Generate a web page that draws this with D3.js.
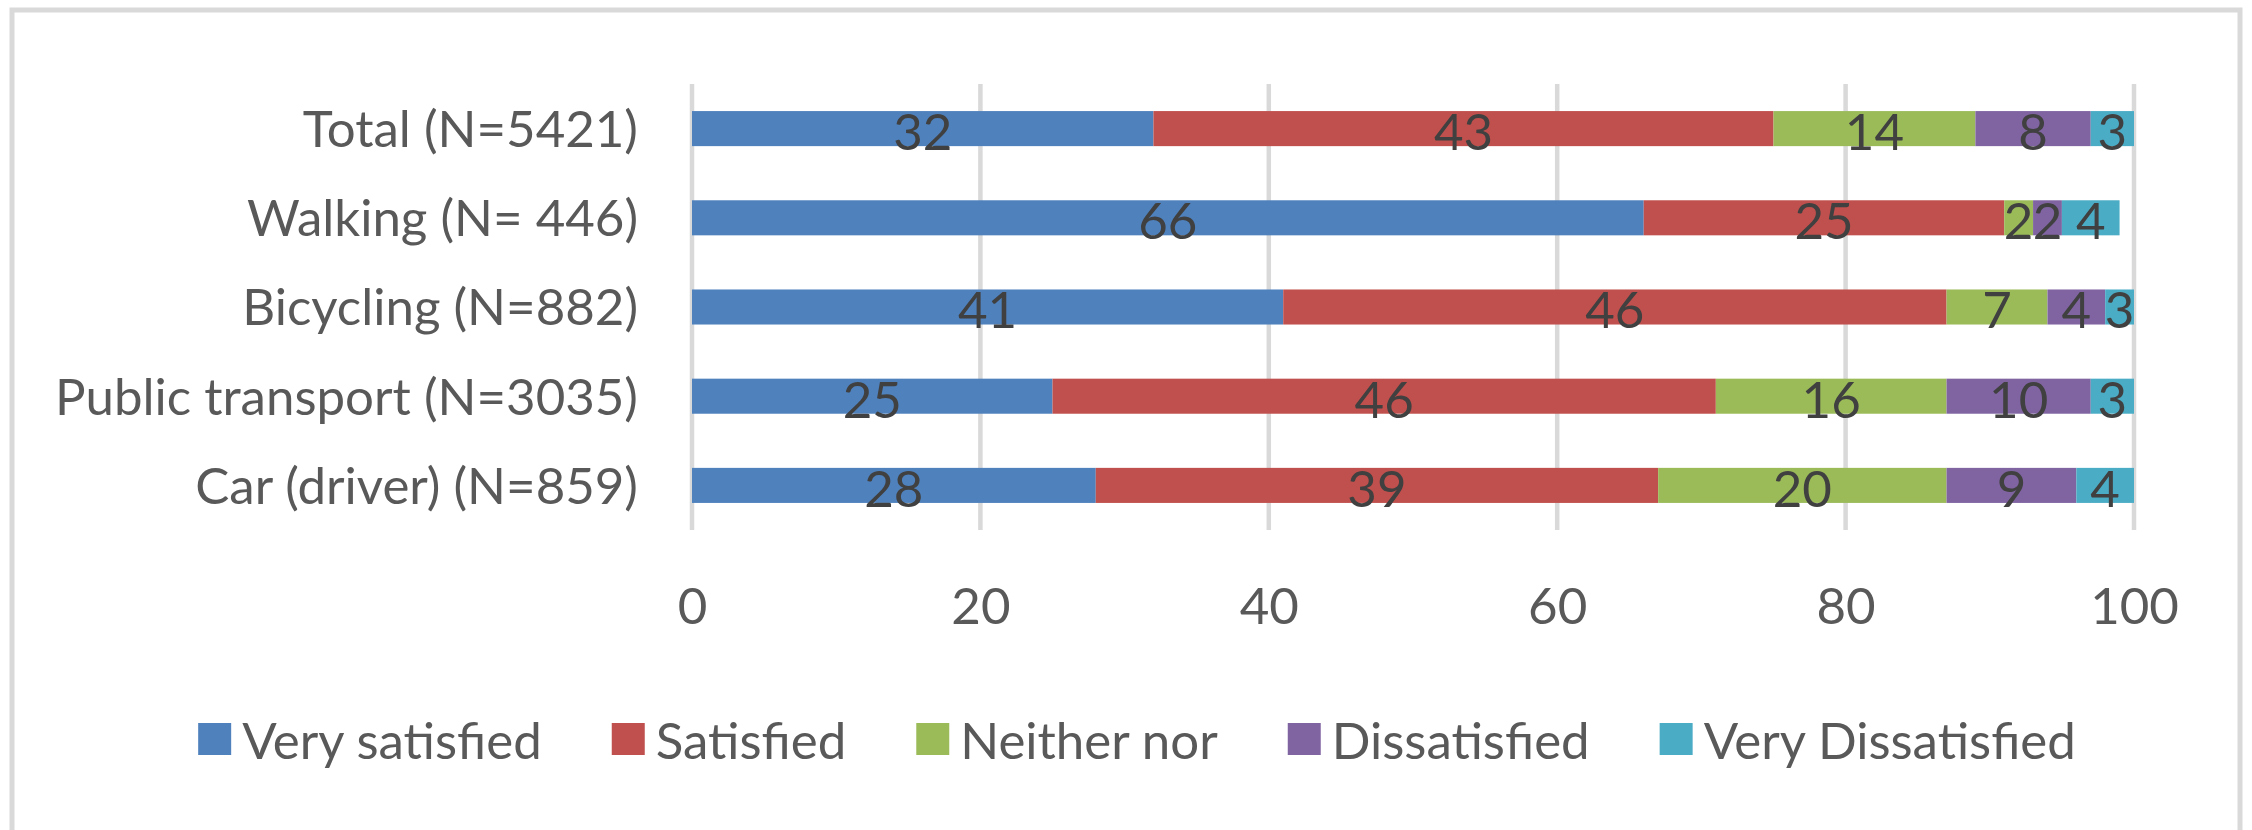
<!DOCTYPE html>
<html>
<head>
<meta charset="utf-8">
<script src="https://cdn.jsdelivr.net/npm/d3@7"></script>
<style>
  html, body { margin: 0; padding: 0; background: #ffffff; }
  svg { display: block; }
  text { font-family: "Lato", "Open Sans", sans-serif; }
</style>
</head>
<body>
<svg id="chart" width="2252" height="830"></svg>
<script>
// Satisfaction with travel mode, percent of respondents
const categories = [
  "Total (N=5421)",
  "Walking (N= 446)",
  "Bicycling (N=882)",
  "Public transport (N=3035)",
  "Car (driver) (N=859)"
];
const seriesNames = ["Very satisfied", "Satisfied", "Neither nor", "Dissatisfied", "Very Dissatisfied"];
const verySatisfied     = [32, 66, 41, 25, 28];
const satisfied         = [43, 25, 46, 46, 39];
const neitherNor        = [14,  2,  7, 16, 20];
const dissatisfied      = [ 8,  2,  4, 10,  9];
const veryDissatisfied  = [ 3,  4,  3,  3,  4];
const xTicks = [0, 20, 40, 60, 80, 100];

const seriesValues = [verySatisfied, satisfied, neitherNor, dissatisfied, veryDissatisfied];
const colors = ["#4F81BD", "#C0504D", "#9BBB59", "#8064A2", "#4BACC6"];

const W = 2252, H = 830;
const plot = { left: 692, right: 2134, top: 84, bottom: 530 };
const FONT = 51;

const svg = d3.select("#chart");

// outer chart frame
svg.append("rect")
  .attr("x", 12).attr("y", 10)
  .attr("width", W - 24).attr("height", H + 20)
  .attr("fill", "#ffffff")
  .attr("stroke", "#d9d9d9").attr("stroke-width", 5);

const x = d3.scaleLinear().domain([0, 100]).range([plot.left, plot.right]);
const y = d3.scaleBand().domain(categories)
  .range([plot.top, plot.bottom])
  .paddingInner(0.607).paddingOuter(0.3035);

// vertical gridlines
svg.append("g")
  .selectAll("line")
  .data(xTicks)
  .join("line")
  .attr("x1", d => x(d)).attr("x2", d => x(d))
  .attr("y1", plot.top).attr("y2", plot.bottom)
  .attr("stroke", "#d9d9d9").attr("stroke-width", 4.5);

// x tick labels
const xAxis = d3.axisBottom(x).tickValues(xTicks).tickSize(0).tickPadding(0);
const gx = svg.append("g")
  .attr("transform", `translate(0, 624)`)
  .call(xAxis);
gx.select(".domain").remove();
gx.selectAll("text")
  .attr("y", 0).attr("dy", 0)
  .attr("font-size", FONT)
  .attr("font-family", "Lato, 'Open Sans', sans-serif")
  .attr("fill", "#595959");

// category labels
const yAxis = d3.axisLeft(y).tickSize(0).tickPadding(0);
const gy = svg.append("g")
  .attr("transform", `translate(638, 0)`)
  .call(yAxis);
gy.select(".domain").remove();
gy.selectAll("text")
  .attr("x", 0).attr("dy", "0.36em")
  .attr("font-size", FONT)
  .attr("font-family", "Lato, 'Open Sans', sans-serif")
  .attr("fill", "#595959");

// stacked data
const rows = categories.map((c, i) => {
  const r = { category: c };
  seriesNames.forEach((s, j) => { r[s] = seriesValues[j][i]; });
  return r;
});
const stacked = d3.stack().keys(seriesNames)(rows);

svg.append("clipPath").attr("id", "plotClip")
  .append("rect")
  .attr("x", plot.left).attr("y", plot.top)
  .attr("width", plot.right - plot.left).attr("height", plot.bottom - plot.top);

const layers = svg.append("g").attr("clip-path", "url(#plotClip)")
  .selectAll("g.layer")
  .data(stacked)
  .join("g")
  .attr("class", "layer")
  .attr("fill", (d, i) => colors[i]);

layers.selectAll("rect")
  .data(d => d)
  .join("rect")
  .attr("x", d => x(d[0]))
  .attr("width", d => x(d[1]) - x(d[0]))
  .attr("y", d => y(d.data.category))
  .attr("height", y.bandwidth());

// value labels centred in each segment
const labelLayers = svg.append("g")
  .selectAll("g.lbl")
  .data(stacked)
  .join("g")
  .attr("class", "lbl");

labelLayers.selectAll("text")
  .data(d => d.map(v => ({ v, key: d.key })))
  .join("text")
  .attr("x", d => x((d.v[0] + Math.min(d.v[1], 100)) / 2))
  .attr("y", d => y(d.v.data.category) + y.bandwidth() / 2)
  .attr("dy", "0.42em")
  .attr("text-anchor", "middle")
  .attr("font-size", FONT)
  .attr("fill", "#404040")
  .text(d => d.v.data[d.key]);

// legend
const legend = svg.append("g");
const items = legend.selectAll("g")
  .data(seriesNames)
  .join("g");
items.append("rect")
  .attr("width", 33).attr("height", 32)
  .attr("y", 723)
  .attr("fill", (d, i) => colors[i]);
items.append("text")
  .attr("x", 44).attr("y", 759)
  .attr("font-size", FONT)
  .attr("fill", "#595959")
  .text(d => d);

let cursor = 0;
const offsets = [];
items.each(function() {
  const tw = d3.select(this).select("text").node().getComputedTextLength();
  offsets.push(cursor);
  cursor += 44 + tw + 70;
});
const totalW = cursor - 70;
const startX = 1137 - totalW / 2;
items.attr("transform", (d, i) => `translate(${startX + offsets[i]}, 0)`);
</script>
</body>
</html>
